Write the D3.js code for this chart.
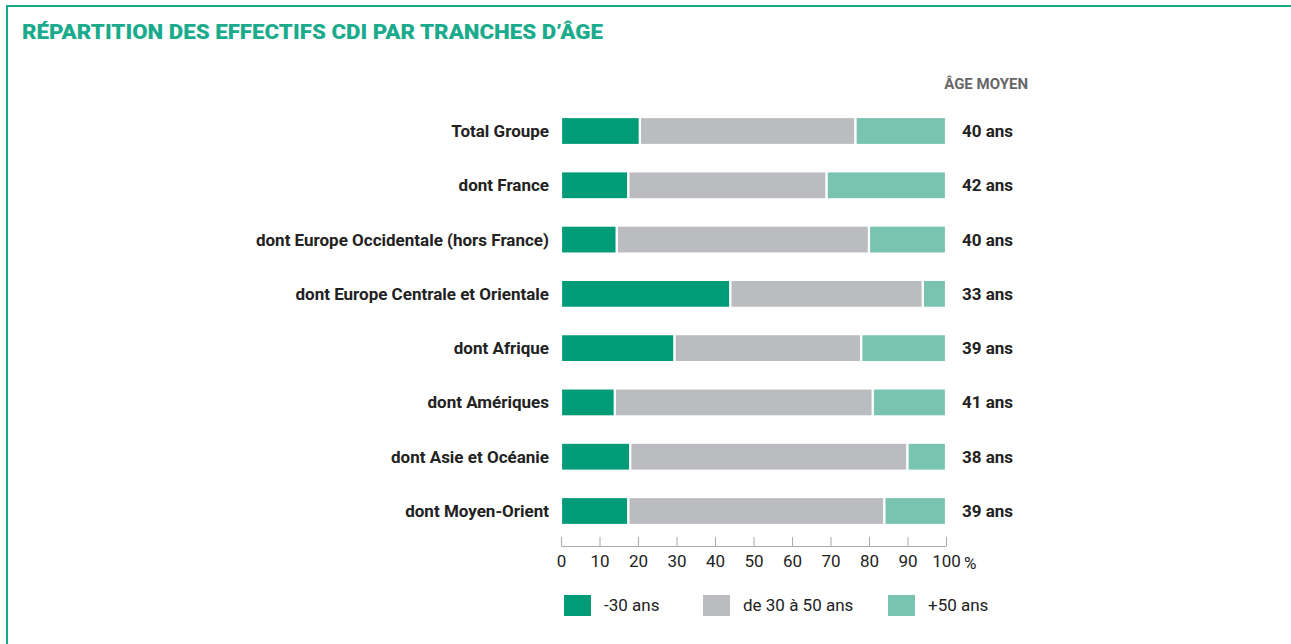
<!DOCTYPE html>
<html><head><meta charset="utf-8">
<script src="https://cdn.jsdelivr.net/npm/d3@7"></script>
<style>
body{margin:0;background:#fff;}
text{font-family:"Roboto","Liberation Sans",sans-serif;}
</style></head>
<body><svg id="c" width="1291" height="644"></svg>
<script>
const categories = ["Total Groupe","dont France","dont Europe Occidentale (hors France)","dont Europe Centrale et Orientale","dont Afrique","dont Amériques","dont Asie et Océanie","dont Moyen-Orient"];
const under30 = [20.5, 17.5, 14.5, 44, 29.5, 14, 18, 17.5];
const from30to50 = [56, 51.5, 65.5, 50, 48.5, 67, 72, 66.5];
const over50 = [23.5, 31, 20, 6, 22, 19, 10, 16];
const averageAge = ["40 ans","42 ans","40 ans","33 ans","39 ans","41 ans","38 ans","39 ans"];
const seriesNames = ["-30 ans","de 30 à 50 ans","+50 ans"];
const tickValues = [0,10,20,30,40,50,60,70,80,90,100];
const colors = ["#009b77","#bbbcbf","#78c4b1"];

const svg = d3.select("#c");
// frame
svg.append("path").attr("d","M7,644 V6 H1291").attr("fill","none").attr("stroke","#1aa88a").attr("stroke-width",2);
svg.append("text").attr("x",22).attr("y",39).text("RÉPARTITION DES EFFECTIFS CDI PAR TRANCHES D’ÂGE")
  .attr("font-size",20.5).attr("font-weight","900").attr("fill","#1aab8c")
  .attr("textLength",581).attr("lengthAdjust","spacingAndGlyphs");
svg.append("text").attr("x",1028).attr("y",89).attr("text-anchor","end").text("ÂGE MOYEN")
  .attr("font-size",15).attr("font-weight","bold").attr("fill","#666");

const x = d3.scaleLinear().domain([0,100]).range([561,946]);
const y = d3.scaleBand().domain(categories).range([104,538]).paddingInner(0.485).paddingOuter(0.24);

const stackData = categories.map((c,i)=>({c, a:under30[i], b:from30to50[i], d:over50[i]}));
const stack = d3.stack().keys(["a","b","d"])(stackData);

svg.selectAll("g.s").data(stack).join("g").attr("class","s").attr("fill",(d,i)=>colors[i])
  .selectAll("rect").data(d=>d).join("rect")
  .attr("x",d=>x(d[0])).attr("width",d=>x(d[1])-x(d[0]))
  .attr("y",d=>y(d.data.c)).attr("height",y.bandwidth())
  .attr("stroke","#fff").attr("stroke-width",2.2);

svg.selectAll("text.cat").data(categories).join("text").attr("class","cat")
  .attr("x",549).attr("y",d=>y(d)+y.bandwidth()/2+6).attr("text-anchor","end")
  .attr("font-size",17).attr("font-weight","bold").attr("fill","#222").text(d=>d);

svg.selectAll("text.age").data(averageAge).join("text").attr("class","age")
  .attr("x",962).attr("y",(d,i)=>y(categories[i])+y.bandwidth()/2+6)
  .attr("font-size",17).attr("font-weight","bold").attr("fill","#222").text(d=>d);

const axis = d3.axisBottom(x).tickValues(tickValues).tickSize(-9).tickSizeOuter(0).tickPadding(9);
const ga = svg.append("g").attr("transform","translate(0,546)").call(axis);
ga.select(".domain").attr("stroke","#aaa");
ga.selectAll(".tick line").attr("stroke","#aaa");
ga.selectAll(".tick text").attr("font-size",17).attr("fill","#222").attr("dy","0.71em")
  .attr("font-family",'"Roboto",sans-serif');
svg.append("text").attr("x",x(100)+18).attr("y",569).text("%").attr("font-size",17).attr("fill","#222");

const lx = [564,703,888];
const lg = svg.selectAll("g.lg").data(seriesNames).join("g").attr("class","lg")
  .attr("transform",(d,i)=>`translate(${lx[i]},595)`);
lg.append("rect").attr("width",27).attr("height",21).attr("fill",(d,i)=>colors[i]);
lg.append("text").attr("x",40).attr("y",16).attr("font-size",17).attr("fill","#222").text(d=>d);
</script></body></html>
